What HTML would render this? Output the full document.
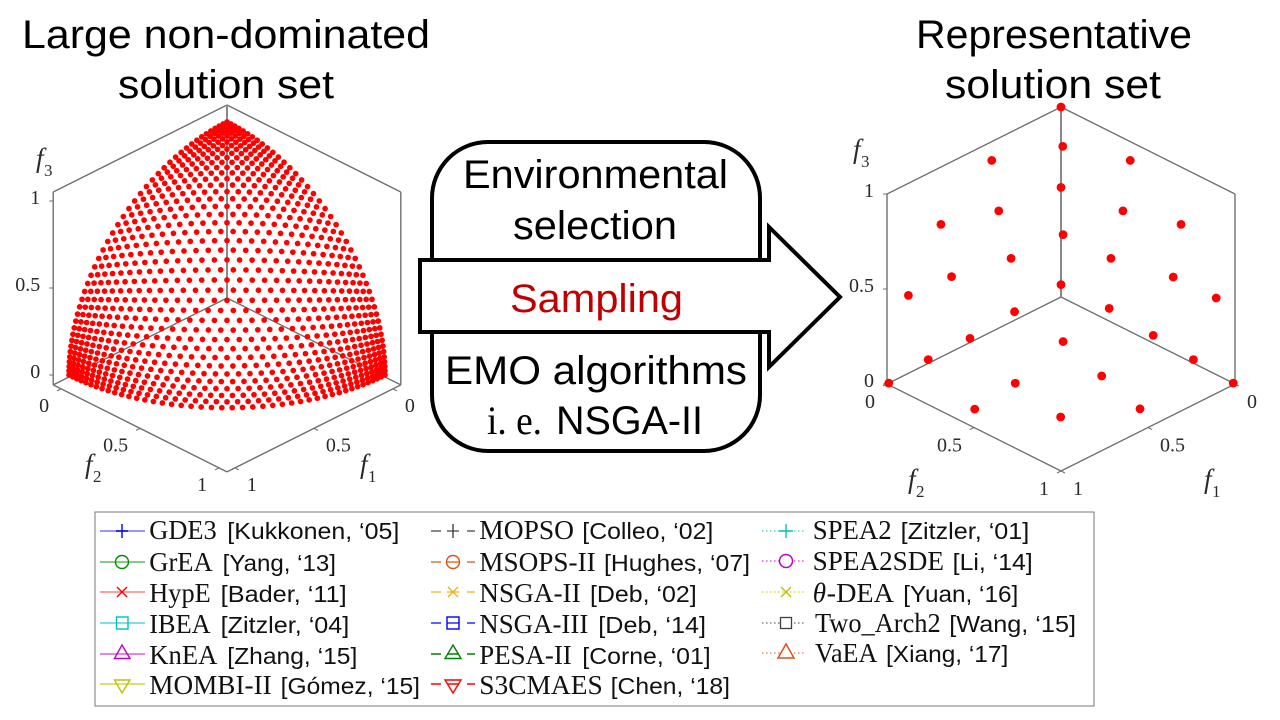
<!DOCTYPE html>
<html lang="en">
<head>
<meta charset="utf-8">
<title>Large non-dominated solution set sampled to a representative set</title>
<style>
html,body{margin:0;padding:0;background:#fff;width:1280px;height:720px;overflow:hidden}
svg{display:block}
.big{font-family:"Liberation Sans",sans-serif;font-size:40px;fill:#000}
.name{font-family:"Liberation Serif",serif;font-size:27px;fill:#111}
.cite{font-family:"Liberation Sans",sans-serif;font-size:23px;fill:#111}
.tick{font-family:"Liberation Serif",serif;font-size:20px;fill:#2a2a2a}
.axf{font-family:"Liberation Serif",serif;font-style:italic;font-size:27px;fill:#2a2a2a}
.axs{font-family:"Liberation Serif",serif;font-size:17px;fill:#2a2a2a}
</style>
</head>
<body>
<svg id="stage" xmlns="http://www.w3.org/2000/svg" width="1280" height="720" viewBox="0 0 1280 720">
  <rect x="0" y="0" width="1280" height="720" fill="#fff"/>

  <text class="big" x="22" y="48" textLength="408" lengthAdjust="spacingAndGlyphs">Large non-dominated</text>
  <text class="big" x="118" y="98" textLength="216" lengthAdjust="spacingAndGlyphs">solution set</text>
  <text class="big" x="916" y="48" textLength="276" lengthAdjust="spacingAndGlyphs">Representative</text>
  <text class="big" x="945" y="98" textLength="216" lengthAdjust="spacingAndGlyphs">solution set</text>

  <g id="left-chart"></g>
  <g id="right-chart"></g>

  <g>
    <rect x="432" y="142" width="328" height="309" rx="56" ry="56" fill="#fff" stroke="#000" stroke-width="4"/>
    <text class="big" x="463" y="188" textLength="265" lengthAdjust="spacingAndGlyphs">Environmental</text>
    <text class="big" x="513" y="239" textLength="164" lengthAdjust="spacingAndGlyphs">selection</text>
    <polygon points="420,260 769,260 769,227 840,297 769,367 769,332 420,332" fill="#fff" stroke="#000" stroke-width="4"/>
    <text class="big" x="510" y="312" textLength="173" lengthAdjust="spacingAndGlyphs" style="fill:#c00000">Sampling</text>
    <text class="big" x="445" y="384" textLength="302" lengthAdjust="spacingAndGlyphs">EMO algorithms</text>
    <text x="487" y="434" textLength="55" lengthAdjust="spacingAndGlyphs" font-family="'Liberation Serif',serif" font-size="40" fill="#000">i. e.</text>
    <text class="big" x="556" y="434" textLength="147" lengthAdjust="spacingAndGlyphs">NSGA-II</text>
  </g>

  <g>
    <rect x="95" y="512" width="999" height="194" fill="#fff" stroke="#777" stroke-width="1"/>

    <g fill="none" stroke="#0000ff">
      <path d="M100 531H145" stroke-opacity=".55" stroke-width="1.6"/><path d="M122 524V538M116 531H128" stroke-width="1.4"/>
      <text class="name" stroke="none" x="149.3" y="539" textLength="67.4" lengthAdjust="spacingAndGlyphs">GDE3</text>
      <text class="cite" stroke="none" x="227.3" y="539" textLength="172" lengthAdjust="spacingAndGlyphs">[Kukkonen, ‘05]</text>
    </g>
    <g fill="none" stroke="#009000">
      <path d="M100 562H145" stroke-opacity=".75" stroke-width="1.2"/><circle cx="122" cy="562" r="6.5" stroke-width="1.4"/>
      <text class="name" stroke="none" x="149.3" y="571" textLength="63.4" lengthAdjust="spacingAndGlyphs">GrEA</text>
      <text class="cite" stroke="none" x="222.7" y="571" textLength="113.3" lengthAdjust="spacingAndGlyphs">[Yang, ‘13]</text>
    </g>
    <g fill="none" stroke="#ff0000">
      <path d="M100 592H145" stroke-opacity=".6" stroke-width="1.2"/><path d="M117 587L127 597M127 587L117 597" stroke-width="1.4"/>
      <text class="name" stroke="none" x="149.3" y="602" textLength="61.4" lengthAdjust="spacingAndGlyphs">HypE</text>
      <text class="cite" stroke="none" x="220.7" y="602" textLength="126" lengthAdjust="spacingAndGlyphs">[Bader, ‘11]</text>
    </g>
    <g fill="none" stroke="#00c0c0">
      <path d="M100 623H145" stroke-opacity=".8" stroke-width="1.2"/><rect x="116.5" y="617" width="11.5" height="12" stroke-width="1.4"/>
      <text class="name" stroke="none" x="149.3" y="633" textLength="61.4" lengthAdjust="spacingAndGlyphs">IBEA</text>
      <text class="cite" stroke="none" x="220.7" y="633" textLength="128.6" lengthAdjust="spacingAndGlyphs">[Zitzler, ‘04]</text>
    </g>
    <g fill="none" stroke="#c000c0">
      <path d="M100 654H145" stroke-opacity=".75" stroke-width="1.2"/><polygon points="122,645 130,658.500 114.500,658.500" stroke-width="1.4"/>
      <text class="name" stroke="none" x="149.3" y="664" textLength="68" lengthAdjust="spacingAndGlyphs">KnEA</text>
      <text class="cite" stroke="none" x="227.3" y="664" textLength="130" lengthAdjust="spacingAndGlyphs">[Zhang, ‘15]</text>
    </g>
    <g fill="none" stroke="#c0c000">
      <path d="M100 684H145" stroke-opacity=".7" stroke-width="1.6"/><polygon points="114.500,680 130,680 122,693" stroke-width="1.4"/>
      <text class="name" stroke="none" x="149.3" y="694" textLength="122.4" lengthAdjust="spacingAndGlyphs">MOMBI-II</text>
      <text class="cite" stroke="none" x="280.7" y="694" textLength="139.3" lengthAdjust="spacingAndGlyphs">[Gómez, ‘15]</text>
    </g>

    <g fill="none" stroke="#404040">
      <path d="M431 531H441M467 531H475M447 531H459" stroke-width="1.3"/><path d="M453 524V538" stroke-width="1.4"/>
      <text class="name" stroke="none" x="479.3" y="539" textLength="94.7" lengthAdjust="spacingAndGlyphs">MOPSO</text>
      <text class="cite" stroke="none" x="582.3" y="539" textLength="131" lengthAdjust="spacingAndGlyphs">[Colleo, ‘02]</text>
    </g>
    <g fill="none" stroke="#d95319">
      <path d="M431 562H441M467 562H475M447 562H459" stroke-width="1.2"/><circle cx="453" cy="562" r="6.5" stroke-width="1.4"/>
      <text class="name" stroke="none" x="479.3" y="571" textLength="116.4" lengthAdjust="spacingAndGlyphs">MSOPS-II</text>
      <text class="cite" stroke="none" x="604" y="571" textLength="146" lengthAdjust="spacingAndGlyphs">[Hughes, ‘07]</text>
    </g>
    <g fill="none" stroke="#edb120">
      <path d="M431 592H441M467 592H475M447 592H459" stroke-width="1.3"/><path d="M448 587L458 597M458 587L448 597" stroke-width="1.4"/>
      <text class="name" stroke="none" x="479.3" y="602" textLength="101.4" lengthAdjust="spacingAndGlyphs">NSGA-II</text>
      <text class="cite" stroke="none" x="590" y="602" textLength="106.7" lengthAdjust="spacingAndGlyphs">[Deb, ‘02]</text>
    </g>
    <g fill="none" stroke="#0000ff">
      <path d="M431 623H441M467 623H475M447 623H459" stroke-width="1.2"/><rect x="447" y="617" width="12" height="12" stroke-width="1.4"/>
      <text class="name" stroke="none" x="479.3" y="633" textLength="109" lengthAdjust="spacingAndGlyphs">NSGA-III</text>
      <text class="cite" stroke="none" x="598.3" y="633" textLength="107.7" lengthAdjust="spacingAndGlyphs">[Deb, ‘14]</text>
    </g>
    <g fill="none" stroke="#008000">
      <path d="M431 654H441M467 654H475M447 654H459" stroke-width="1.4"/><polygon points="453,645 461,658.500 445,658.500" stroke-width="1.4"/>
      <text class="name" stroke="none" x="479.3" y="664" textLength="92.4" lengthAdjust="spacingAndGlyphs">PESA-II</text>
      <text class="cite" stroke="none" x="582.3" y="664" textLength="128.4" lengthAdjust="spacingAndGlyphs">[Corne, ‘01]</text>
    </g>
    <g fill="none" stroke="#ff0000">
      <path d="M431 684H441M467 684H475M447 684H459" stroke-width="1.4"/><polygon points="445,680 461,680 453,693" stroke-width="1.4"/>
      <text class="name" stroke="none" x="479.3" y="694" textLength="123.4" lengthAdjust="spacingAndGlyphs">S3CMAES</text>
      <text class="cite" stroke="none" x="610.7" y="694" textLength="119.3" lengthAdjust="spacingAndGlyphs">[Chen, ‘18]</text>
    </g>

    <g fill="none" stroke="#00c0c0">
      <path d="M762 531H805" stroke-dasharray="1.5 2.5" stroke-width="1.1"/><path d="M786 524V538M779 531H793" stroke-width="1.4"/>
      <text class="name" stroke="none" x="812.7" y="539" textLength="79" lengthAdjust="spacingAndGlyphs">SPEA2</text>
      <text class="cite" stroke="none" x="900.7" y="539" textLength="128.6" lengthAdjust="spacingAndGlyphs">[Zitzler, ‘01]</text>
    </g>
    <g fill="none" stroke="#c000c0">
      <path d="M762 561H805" stroke-dasharray="1.5 2.5" stroke-width="1.1"/><circle cx="786" cy="561" r="6.5" fill="#fff" stroke-width="1.5"/>
      <text class="name" stroke="none" x="812.7" y="570" textLength="131.3" lengthAdjust="spacingAndGlyphs">SPEA2SDE</text>
      <text class="cite" stroke="none" x="952.7" y="570" textLength="80" lengthAdjust="spacingAndGlyphs">[Li, ‘14]</text>
    </g>
    <g fill="none" stroke="#c0c000">
      <path d="M762 592H805" stroke-dasharray="1.5 2.5" stroke-width="1.1"/><path d="M781 587L791 597M791 587L781 597" stroke-width="1.4"/>
      <text class="name" stroke="none" x="812.7" y="602" font-style="italic">θ</text>
      <text class="name" stroke="none" x="826.7" y="602" textLength="67.3" lengthAdjust="spacingAndGlyphs">-DEA</text>
      <text class="cite" stroke="none" x="903.3" y="602" textLength="115" lengthAdjust="spacingAndGlyphs">[Yuan, ‘16]</text>
    </g>
    <g fill="none" stroke="#404040">
      <path d="M762 623H805" stroke-dasharray="1.5 2.5" stroke-width="1.1"/><rect x="780.500" y="617.500" width="11" height="11" fill="#fff" stroke-width="1.3"/>
      <text class="name" stroke="none" x="815" y="632" textLength="125.7" lengthAdjust="spacingAndGlyphs">Two_Arch2</text>
      <text class="cite" stroke="none" x="949.3" y="632" textLength="126.7" lengthAdjust="spacingAndGlyphs">[Wang, ‘15]</text>
    </g>
    <g fill="none" stroke="#d95319">
      <path d="M762 653H805" stroke-dasharray="1.5 2.5" stroke-width="1.1"/><polygon points="786,644 794,658 778,658" fill="#fff" stroke-width="1.5"/>
      <text class="name" stroke="none" x="815" y="662" textLength="62.3" lengthAdjust="spacingAndGlyphs">VaEA</text>
      <text class="cite" stroke="none" x="886" y="662" textLength="122.3" lengthAdjust="spacingAndGlyphs">[Xiang, ‘17]</text>
    </g>
  </g>
</svg>

<script>
// ---- chart data ----
const tickValues = [0, 0.5, 1];
const tickLabels = ['0', '0.5', '1'];
const latticeDivisions = 43; // inferred from the dot spacing in the picture

// Left surface: the dots were not measured individually. These are indices of a regular lattice
// fitted to the picture (row index = f3 level, each entry = f1 index), normalised onto the unit sphere below.
const leftSurfaceRows = [
[0,1,2,3,4,5,6,7,8,9,10,11,12,13,14,15,16,17,18,19,20,21,22,23,24,25,26,27,28,29,30,31,32,33,34,35,36,37,38,39,40,41,42,43],
[0,1,2,3,4,5,6,7,8,9,10,11,12,13,14,15,16,17,18,19,20,21,22,23,24,25,26,27,28,29,30,31,32,33,34,35,36,37,38,39,40,41,42],
[0,1,2,3,4,5,6,7,8,9,10,11,12,13,14,15,16,17,18,19,20,21,22,23,24,25,26,27,28,29,30,31,32,33,34,35,36,37,38,39,40,41],
[0,1,2,3,4,5,6,7,8,9,10,11,12,13,14,15,16,17,18,19,20,21,22,23,24,25,26,27,28,29,30,31,32,33,34,35,36,37,38,39,40],
[0,1,2,3,4,5,6,7,8,9,10,11,12,13,14,15,16,17,18,19,20,21,22,23,24,25,26,27,28,29,30,31,32,33,34,35,36,37,38,39],
[0,1,2,3,4,5,6,7,8,9,10,11,12,13,14,15,16,17,18,19,20,21,22,23,24,25,26,27,28,29,30,31,32,33,34,35,36,37,38],
[0,1,2,3,4,5,6,7,8,9,10,11,12,13,14,15,16,17,18,19,20,21,22,23,24,25,26,27,28,29,30,31,32,33,34,35,36,37],
[0,1,2,3,4,5,6,7,8,9,10,11,12,13,14,15,16,17,18,19,20,21,22,23,24,25,26,27,28,29,30,31,32,33,34,35,36],
[0,1,2,3,4,5,6,7,8,9,10,11,12,13,14,15,16,17,18,19,20,21,22,23,24,25,26,27,28,29,30,31,32,33,34,35],
[0,1,2,3,4,5,6,7,8,9,10,11,12,13,14,15,16,17,18,19,20,21,22,23,24,25,26,27,28,29,30,31,32,33,34],
[0,1,2,3,4,5,6,7,8,9,10,11,12,13,14,15,16,17,18,19,20,21,22,23,24,25,26,27,28,29,30,31,32,33],
[0,1,2,3,4,5,6,7,8,9,10,11,12,13,14,15,16,17,18,19,20,21,22,23,24,25,26,27,28,29,30,31,32],
[0,1,2,3,4,5,6,7,8,9,10,11,12,13,14,15,16,17,18,19,20,21,22,23,24,25,26,27,28,29,30,31],
[0,1,2,3,4,5,6,7,8,9,10,11,12,13,14,15,16,17,18,19,20,21,22,23,24,25,26,27,28,29,30],
[0,1,2,3,4,5,6,7,8,9,10,11,12,13,14,15,16,17,18,19,20,21,22,23,24,25,26,27,28,29],
[0,1,2,3,4,5,6,7,8,9,10,11,12,13,14,15,16,17,18,19,20,21,22,23,24,25,26,27,28],
[0,1,2,3,4,5,6,7,8,9,10,11,12,13,14,15,16,17,18,19,20,21,22,23,24,25,26,27],
[0,1,2,3,4,5,6,7,8,9,10,11,12,13,14,15,16,17,18,19,20,21,22,23,24,25,26],
[0,1,2,3,4,5,6,7,8,9,10,11,12,13,14,15,16,17,18,19,20,21,22,23,24,25],
[0,1,2,3,4,5,6,7,8,9,10,11,12,13,14,15,16,17,18,19,20,21,22,23,24],
[0,1,2,3,4,5,6,7,8,9,10,11,12,13,14,15,16,17,18,19,20,21,22,23],
[0,1,2,3,4,5,6,7,8,9,10,11,12,13,14,15,16,17,18,19,20,21,22],
[0,1,2,3,4,5,6,7,8,9,10,11,12,13,14,15,16,17,18,19,20,21],
[0,1,2,3,4,5,6,7,8,9,10,11,12,13,14,15,16,17,18,19,20],
[0,1,2,3,4,5,6,7,8,9,10,11,12,13,14,15,16,17,18,19],
[0,1,2,3,4,5,6,7,8,9,10,11,12,13,14,15,16,17,18],
[0,1,2,3,4,5,6,7,8,9,10,11,12,13,14,15,16,17],
[0,1,2,3,4,5,6,7,8,9,10,11,12,13,14,15,16],
[0,1,2,3,4,5,6,7,8,9,10,11,12,13,14,15],
[0,1,2,3,4,5,6,7,8,9,10,11,12,13,14],
[0,1,2,3,4,5,6,7,8,9,10,11,12,13],
[0,1,2,3,4,5,6,7,8,9,10,11,12],
[0,1,2,3,4,5,6,7,8,9,10,11],
[0,1,2,3,4,5,6,7,8,9,10],
[0,1,2,3,4,5,6,7,8,9],
[0,1,2,3,4,5,6,7,8],
[0,1,2,3,4,5,6,7],
[0,1,2,3,4,5,6],
[0,1,2,3,4,5],
[0,1,2,3,4],
[0,1,2,3],
[0,1,2],
[0,1],
[0]
];

// Right chart: estimated from each dot's screen position, assuming the points lie on the unit sphere
// (one 2D view cannot show depth).
const rightF1 = [0,.182,.333,.459,.572,.410,.012,.561,.204,.704,.014,.650,.363,.809,.169,.901,.016,.740,.462,.873,.341,.960,.198,.990,0,.652,.816,.565,.910,.443,.708];
const rightF2 = [0,.192,.333,.471,.572,.012,.410,.203,.560,.014,.704,.363,.650,.180,.814,.024,.908,.473,.739,.350,.871,.197,.959,0,.990,.664,.553,.799,.414,.897,.706];
const rightF3 = [1,.964,.882,.754,.589,.912,.912,.803,.803,.711,.711,.667,.667,.560,.555,.432,.418,.478,.490,.342,.353,.200,.200,0,0,.368,.173,.209,.016,.025,.016];

// ---- axis setup ----
const SVGNS = 'http://www.w3.org/2000/svg';
const leftAxis = {cx:227, y0:296, kx:158, ky:79, kz:174, lo:-0.05, hi:1.05, zlo:-0.057, zhi:1.052, tickBase:23, r:2.85};
const rightAxis = {cx:1061, y0:297, kx:174, ky:87, kz:190, lo:0, hi:1, zlo:0, zhi:1, tickBase:24, r:4.4};

function px(a, f1, f2) { return a.cx + (f2 - f1) * a.kx; }
function py(a, f1, f2, f3) { return a.y0 + (f1 + f2) * a.ky - f3 * a.kz; }

function addLine(parent, x1, y1, x2, y2, color, width) {
  const el = document.createElementNS(SVGNS, 'line');
  el.setAttribute('x1', x1.toFixed(2));
  el.setAttribute('y1', y1.toFixed(2));
  el.setAttribute('x2', x2.toFixed(2));
  el.setAttribute('y2', y2.toFixed(2));
  el.setAttribute('stroke', color);
  el.setAttribute('stroke-width', width);
  parent.appendChild(el);
  return el;
}
function addText(parent, x, y, cls, anchor, str) {
  const el = document.createElementNS(SVGNS, 'text');
  el.setAttribute('x', x.toFixed(2));
  el.setAttribute('y', y.toFixed(2));
  el.setAttribute('class', cls);
  el.setAttribute('text-anchor', anchor);
  el.textContent = str;
  parent.appendChild(el);
  return el;
}
function addDot(parent, a, f1, f2, f3) {
  const el = document.createElementNS(SVGNS, 'circle');
  el.setAttribute('cx', px(a, f1, f2).toFixed(2));
  el.setAttribute('cy', py(a, f1, f2, f3).toFixed(2));
  el.setAttribute('r', a.r);
  el.setAttribute('fill', '#ff0000');
  parent.appendChild(el);
  return el;
}

function drawFrame(g, a) {
  const c = '#707070';
  const edges = [
    [a.lo,a.lo,a.zhi, a.hi,a.lo,a.zhi],
    [a.lo,a.lo,a.zhi, a.lo,a.hi,a.zhi],
    [a.hi,a.lo,a.zhi, a.hi,a.lo,a.zlo],
    [a.lo,a.hi,a.zhi, a.lo,a.hi,a.zlo],
    [a.hi,a.lo,a.zlo, a.hi,a.hi,a.zlo],
    [a.lo,a.hi,a.zlo, a.hi,a.hi,a.zlo],
    [a.lo,a.lo,a.zlo, a.hi,a.lo,a.zlo],
    [a.lo,a.lo,a.zlo, a.lo,a.hi,a.zlo]
  ];
  edges.forEach(function (e) {
    const line = addLine(g, px(a,e[0],e[1]), py(a,e[0],e[1],e[2]), px(a,e[3],e[4]), py(a,e[3],e[4],e[5]), c, 1.4);
    
    
  });
  const spine = addLine(g, px(a,a.lo,a.lo), py(a,a.lo,a.lo,a.zhi), px(a,a.lo,a.lo), py(a,a.lo,a.lo,a.zlo), '#888888', 2);
  
  
}

function drawTicks(g, a) {
  tickValues.forEach(function (v, i) {
    const lx = px(a, a.hi, a.lo);
    const zy = py(a, a.hi, a.lo, v);
    const zt = addLine(g, lx, zy, lx - 4, zy, '#707070', 1);
    
    
    const zl = addText(g, lx - 13, zy + 3, 'tick', 'end', tickLabels[i]);
    
    

    const ax2 = px(a, a.hi, v);
    const ay2 = py(a, a.hi, v, a.zlo);
    const t2 = addLine(g, ax2, ay2, ax2 - 4, ay2 + 2, '#707070', 1);
    
    
    const l2 = addText(g, ax2 - 12, ay2 + a.tickBase, 'tick', 'end', tickLabels[i]);
    
    

    const ax1 = px(a, v, a.hi);
    const ay1 = py(a, v, a.hi, a.zlo);
    const t1 = addLine(g, ax1, ay1, ax1 + 4, ay1 + 2, '#707070', 1);
    
    
    const l1 = addText(g, ax1 + 12, ay1 + a.tickBase, 'tick', 'start', tickLabels[i]);
    
    
  });
}

function drawAxisTitle(g, name, sub, x, y) {
  const t = addText(g, x, y, 'axf', 'start', 'f');
  
  
  const s = addText(g, x + 8, y + 9, 'axs', 'start', sub);
  
  
}

// ---- left chart ----
const leftG = document.getElementById('left-chart');
drawFrame(leftG, leftAxis);
drawTicks(leftG, leftAxis);
drawAxisTitle(leftG, 'f3-axis-title', '3', 36, 167);
drawAxisTitle(leftG, 'f2-axis-title', '2', 85, 473);
drawAxisTitle(leftG, 'f1-axis-title', '1', 360, 473);
leftSurfaceRows.forEach(function (row, level) {
  row.forEach(function (a) {
    const b = latticeDivisions - level - a;
    const n = Math.hypot(a, b, level);
    const dot = addDot(leftG, leftAxis, a / n, b / n, level / n);
    
    
  });
});

// ---- right chart ----
const rightG = document.getElementById('right-chart');
drawFrame(rightG, rightAxis);
drawTicks(rightG, rightAxis);
drawAxisTitle(rightG, 'f3-axis-title', '3', 853, 158);
drawAxisTitle(rightG, 'f2-axis-title', '2', 908, 488);
drawAxisTitle(rightG, 'f1-axis-title', '1', 1204, 488);
rightF1.forEach(function (f1, i) {
  const dot = addDot(rightG, rightAxis, f1, rightF2[i], rightF3[i]);
  
  
});
</script>
</body>
</html>
